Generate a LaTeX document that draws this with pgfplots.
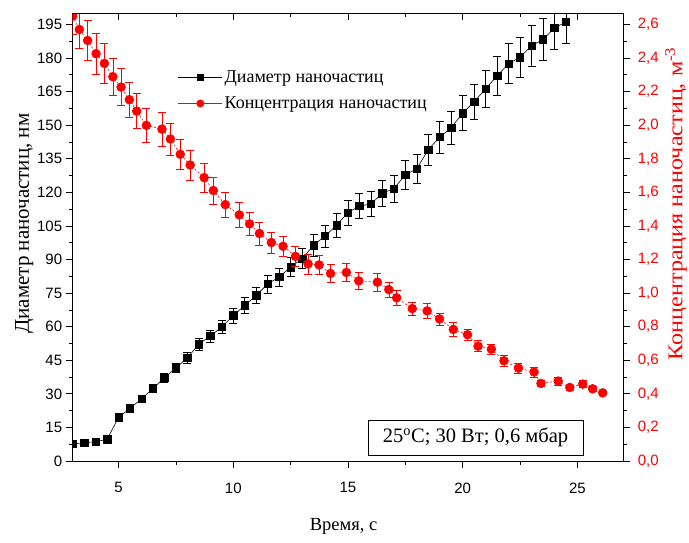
\documentclass[border=0pt]{standalone}
\usepackage{pgfplots}
\pgfplotsset{compat=1.18}
\usepackage{pgfplotstable}
\usepackage{fontspec}
\setmainfont{Liberation Serif}
\newfontfamily\arialfont{Liberation Sans}

\pgfplotstableread{
x y e
3.0 7.6 0.4
3.5 8.2 0.4
4.0 8.6 0.4
4.5 9.7 0.5
5.0 19.5 1.0
5.5 23.5 1.2
6.0 27.8 1.4
6.5 32.4 1.6
7.0 37.2 1.9
7.5 41.6 2.1
8.0 46.1 2.3
8.5 52.2 2.6
9.0 55.8 2.8
9.5 59.9 3.0
10.0 65.0 3.3
10.5 69.5 3.5
11.0 74.0 3.7
11.5 79.1 4.0
12.0 82.2 4.1
12.5 86.6 4.3
13.0 90.4 4.5
13.5 96.4 4.8
14.0 100.5 5.0
14.5 105.3 5.3
15.0 111.0 5.5
15.5 113.9 5.7
16.0 114.8 5.7
16.5 119.6 6.0
17.0 121.7 6.1
17.5 127.8 6.4
18.0 130.6 6.5
18.5 139.1 7.0
19.0 144.7 7.2
19.5 148.9 7.4
20.0 155.4 7.8
20.5 160.5 8.0
21.0 166.3 8.3
21.5 172.1 8.6
22.0 177.5 8.9
22.5 180.4 9.0
23.0 185.5 9.3
23.5 188.3 9.4
24.0 193.4 9.7
24.5 196.2 9.8
}\diam

\pgfplotstableread{
x y e
3.00 2.650 0.110
3.29 2.570 0.110
3.65 2.505 0.120
4.02 2.426 0.120
4.38 2.368 0.117
4.75 2.289 0.110
5.11 2.227 0.110
5.47 2.152 0.105
5.79 2.084 0.105
6.21 1.999 0.100
6.89 1.977 0.100
7.26 1.918 0.095
7.69 1.827 0.091
8.12 1.763 0.090
8.73 1.688 0.085
9.13 1.611 0.081
9.65 1.527 0.076
10.26 1.466 0.075
10.71 1.412 0.069
11.14 1.355 0.069
11.66 1.301 0.064
12.17 1.279 0.062
12.71 1.219 0.060
13.26 1.174 0.060
13.74 1.168 0.056
14.24 1.117 0.055
14.93 1.123 0.055
15.47 1.073 0.053
16.28 1.065 0.052
16.78 1.021 0.045
17.12 0.972 0.046
17.80 0.908 0.040
18.45 0.894 0.045
18.99 0.846 0.035
19.59 0.784 0.040
20.21 0.752 0.034
20.67 0.684 0.033
21.25 0.666 0.032
21.80 0.597 0.032
22.43 0.553 0.028
23.11 0.530 0.030
23.41 0.462 0.020
24.16 0.476 0.023
24.67 0.438 0.015
25.23 0.458 0.020
25.66 0.430 0.015
26.10 0.406 0.010
}\conc

\begin{document}
\begin{tikzpicture}
\useasboundingbox (-72.7pt,-81pt) rectangle (616.3pt,461pt);
\pgfplotsset{
  every axis/.append style={
    at={(0pt,0pt)}, anchor=south west,
    width=550.6pt, height=447.7pt, scale only axis,
    xmin=3, xmax=27,
    tick label style={font=\arialfont\fontsize{15}{17}\selectfont},
    /pgf/number format/assume math mode=true,
    major tick length=7pt, minor tick length=4pt,
    tick style={black, line width=0.8pt},
    axis line style={line width=0.9pt},
    clip marker paths=true,
  }
}
% left axis: diameter
\begin{axis}[
  ymin=0, ymax=200,
  xtick={5,10,15,20,25}, minor x tick num=1,
  ytick={0,15,...,195}, minor y tick num=1,
  xtick pos=bottom, ytick pos=left, tick align=outside,
  x tick label style={yshift=-11pt},
  xlabel={Время, с},
  xlabel style={font=\fontsize{18.5}{20}\selectfont, at={(rel axis cs:0.492,0)}, anchor=base, yshift=-69pt},
  ylabel={Диаметр наночастиц, нм},
  ylabel style={font=\fontsize{21}{24}\selectfont, at={(rel axis cs:-0.0794,0.53)}, anchor=base},
]
\addplot[black, line width=0.6pt, mark=square*, mark size=3.7pt, mark options={solid},
  error bars/.cd, y dir=both, y explicit,
  error bar style={black, line width=0.6pt},
  error mark options={rotate=90, mark size=4pt, black, line width=0.6pt}]
  table[x=x, y=y, y error=e] {\diam};
\node[draw=black, line width=0.6pt, fill=white, minimum width=215pt, minimum height=35pt, inner sep=0pt,
  font=\fontsize{20.5}{22}\selectfont] at (axis cs:20.56,10.5) {25\textsuperscript{o}C; 30 Вт; 0,6 мбар};
\end{axis}
% right axis: concentration
\begin{axis}[
  ymin=0, ymax=2.6666667,
  axis x line=none, axis y line*=right, tick align=outside,
  ytick={0,0.2,0.4,0.6,0.8,1.0,1.2,1.4,1.6,1.8,2.0,2.2,2.4,2.6}, minor y tick num=1,
  y tick label style={/pgf/number format/.cd, fixed, fixed zerofill, precision=1, use comma, /tikz/.cd, red, xshift=4pt},
  ylabel={\scalebox{1.15}[1]{Концентрация наночастиц, м\textsuperscript{-3}}},
  ylabel style={red, font=\fontsize{21}{24}\selectfont, at={(rel axis cs:1.1075,0.575)}, anchor=base},
  legend style={at={(0.191,0.877)}, anchor=north west, draw=none, fill=none,
    font=\fontsize{18}{20}\selectfont, row sep=9pt, inner sep=0pt, cells={anchor=west}},
  legend image code/.code={\draw[mark repeat=2, mark phase=2, #1] plot coordinates {(0pt,0pt) (22pt,0pt) (44pt,0pt)};},
]
\addlegendimage{black, line width=0.6pt, mark=square*, mark size=2.7pt}
\addlegendentry{Диаметр наночастиц}
\addlegendimage{red, line width=0.6pt, mark=*, mark size=3.6pt}
\addlegendentry{Концентрация наночастиц}
\addplot[forget plot, red, line width=0.6pt, dash pattern=on 2pt off 2pt, mark=*, mark size=4.4pt, mark options={solid},
  error bars/.cd, y dir=both, y explicit,
  error bar style={red, line width=0.6pt, solid},
  error mark options={rotate=90, mark size=4pt, red, line width=0.6pt, solid}]
  table[x=x, y=y, y error=e] {\conc};
\end{axis}
% top ticks pointing inward
\begin{axis}[
  ymin=0, ymax=1,
  axis y line=none, axis x line*=top, tick align=inside,
  xtick={5,10,15,20,25}, minor x tick num=1, xticklabels={},
]
\end{axis}
\end{tikzpicture}
\end{document}
